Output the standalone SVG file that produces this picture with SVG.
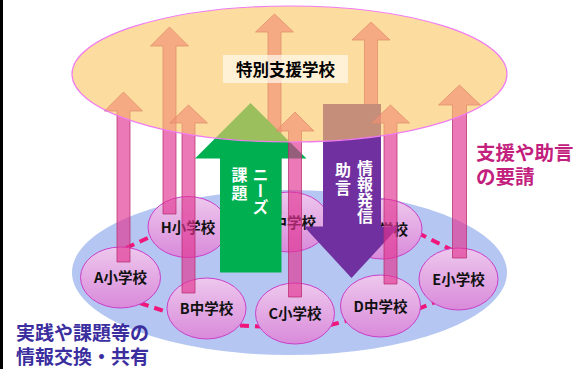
<svg xmlns="http://www.w3.org/2000/svg" width="576" height="369" viewBox="0 0 576 369">
<defs>
<linearGradient id="sch" x1="0" y1="0" x2="0" y2="1">
<stop offset="0" stop-color="#EDC8ED"/>
<stop offset="1" stop-color="#D98ADA"/>
</linearGradient>
<style>
.txt{font-family:"Noto Sans CJK JP","Liberation Sans",sans-serif;font-weight:bold}
.lbl{font-family:"Liberation Sans","Noto Sans CJK JP",sans-serif;font-weight:bold}
.school ellipse{fill:url(#sch);stroke:#C93FC9;stroke-width:1}
.school text{font-size:14.5px;fill:#111;text-anchor:middle}
.pink{fill:#E23392;fill-opacity:0.66;stroke:#B52E6E;stroke-opacity:0.75;stroke-width:1}
.dash{stroke:#F0157A;stroke-width:4;stroke-dasharray:9 6;fill:none}
.vt{font-size:16px;fill:#fff;writing-mode:vertical-rl}
</style>
</defs>
<rect x="0" y="0" width="576" height="369" fill="#fff"/>
<rect x="0" y="0" width="3" height="369" fill="#000"/>
<g id="network">
<ellipse cx="289.5" cy="272.5" rx="217.5" ry="82.5" fill="#B4C6F1"/>
</g>
<g id="connectors">
<line class="dash" x1="126" y1="248" x2="152" y2="236"/>
<line class="dash" x1="140" y1="303" x2="170" y2="313"/>
<line class="dash" x1="240" y1="325.5" x2="260" y2="326.5"/>
<line class="dash" x1="330" y1="325" x2="346" y2="321"/>
<line class="dash" x1="418" y1="309" x2="438" y2="301"/>
<line class="dash" x1="418" y1="233" x2="452" y2="250"/>
</g>
<g id="school-A" class="school txt"><ellipse cx="120.5" cy="277.5" rx="40" ry="30.5"/><text x="120.5" y="283">A小学校</text></g>
<g id="school-H" class="school txt"><ellipse cx="188" cy="227" rx="40" ry="30.5"/><text x="188" y="232.5">H小学校</text></g>
<g id="school-B" class="school txt"><ellipse cx="206.5" cy="308.5" rx="39.5" ry="30.5"/><text x="206.5" y="314">B中学校</text></g>
<g id="school-C" class="school txt"><ellipse cx="295" cy="313.5" rx="39.5" ry="30.5"/><text x="295" y="319">C小学校</text></g>
<g id="school-D" class="school txt"><ellipse cx="380.5" cy="306" rx="40" ry="31"/><text x="380.5" y="311.5">D中学校</text></g>
<g id="school-E" class="school txt"><ellipse cx="458.5" cy="279" rx="39.5" ry="31"/><text x="458.5" y="284.5">E小学校</text></g>
<g id="school-G" class="school txt"><ellipse cx="289" cy="222" rx="40" ry="30"/><text x="289" y="227.5">G中学校</text></g>
<g id="school-F" class="school txt"><ellipse cx="382" cy="229" rx="40" ry="30"/><text x="382" y="234.5">F中学校</text></g>
<g id="up-arrows-back">
<path class="pink" d="M274.5,14 L293.5,32 L281,32 L281,215 L268,215 L268,32 L255.5,32 Z"/>
<path class="pink" d="M371,22 L390,40 L377.5,40 L377.5,215 L364.5,215 L364.5,40 L352,40 Z"/>
</g>
<g id="needs-arrow">
<path d="M250.5,103 L306.5,158.5 L281.5,158.5 L281.5,272.5 L220,272.5 L220,158.5 L195,158.5 Z" fill="#00B050"/>
<text class="txt vt" x="260.5" y="167">ニーズ</text>
<text class="txt vt" x="239.5" y="167" letter-spacing="1.5">課題</text>
</g>
<g id="advice-arrow">
<path d="M323,104 L381,104 L381,226.5 L399,226.5 L351.5,278 L304,226.5 L323,226.5 Z" fill="#7030A0"/>
<text class="txt vt" x="365" y="160">情報発信</text>
<text class="txt vt" x="343" y="162" letter-spacing="2">助言</text>
</g>
<g id="up-arrows-front">
<path class="pink" d="M123.5,92 L142.5,111 L130,111 L130,262 L117,262 L117,111 L104.5,111 Z"/>
<path class="pink" d="M169.5,27 L188.5,46 L176,46 L176,214 L163,214 L163,46 L150.5,46 Z"/>
<path class="pink" d="M188.5,105 L207.5,123 L195,123 L195,293 L182,293 L182,123 L169.5,123 Z"/>
<path class="pink" d="M295,112 L314,131 L301.5,131 L301.5,297 L288.5,297 L288.5,131 L276,131 Z"/>
<path class="pink" d="M390.5,105 L409.5,123 L397,123 L397,284 L384,284 L384,123 L371.5,123 Z"/>
<path class="pink" d="M459.5,85 L480.5,105 L466.5,105 L466.5,258 L452.5,258 L452.5,105 L438.5,105 Z"/>
</g>
<g id="special-school">
<ellipse cx="289.5" cy="74" rx="217.5" ry="68" fill="#FAC864" fill-opacity="0.62" stroke="#F07CF0" stroke-width="1.2"/>
<rect x="223" y="55" width="125" height="28" fill="#FFF8EC" fill-opacity="0.72"/>
<text class="txt" x="285.5" y="76" font-size="16.5" text-anchor="middle" fill="#000">特別支援学校</text>
</g>
<g id="label-request">
<text class="lbl" fill="#C2207C" font-size="19.5"><tspan x="476" y="160">支援や助言</tspan><tspan x="476" y="184">の要請</tspan></text>
</g>
<g id="label-share">
<text class="lbl" fill="#3B2E9E" font-size="19"><tspan x="16" y="340">実践や課題等の</tspan><tspan x="16" y="364">情報交換・共有</tspan></text>
</g>
</svg>
